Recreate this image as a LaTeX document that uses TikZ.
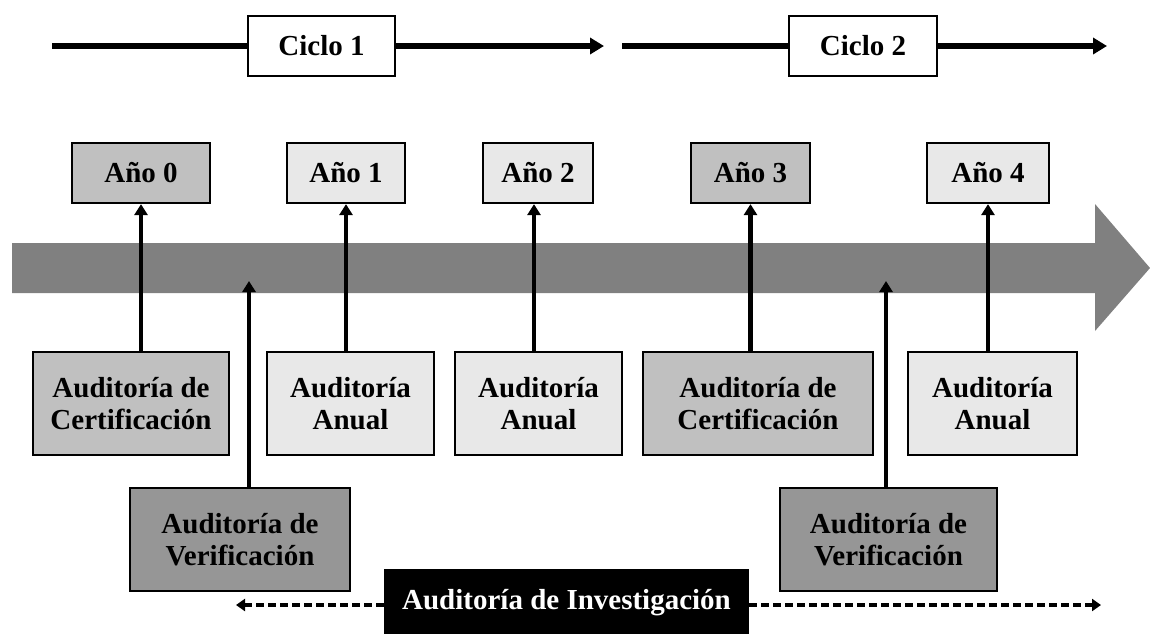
\documentclass[tikz,border=0pt]{standalone}
\usepackage{fontspec}
\setmainfont{Liberation Serif}
\usetikzlibrary{arrows.meta}
\definecolor{gA}{HTML}{C0C0C0}
\definecolor{gL}{HTML}{E8E8E8}
\definecolor{gV}{HTML}{969696}
\definecolor{gB}{HTML}{808080}
\begin{document}
\begin{tikzpicture}[x=1pt,y=-1pt,
  box/.style={draw=black, line width=2.2pt, inner sep=0pt, align=center,
    font=\fontsize{29}{32}\selectfont\bfseries},
  topline/.style={line width=5.5pt},
  toparrow/.style={line width=5.5pt, -{Triangle[length=14pt,width=16pt]}},
  uparrow/.style={line width=4.2pt, -{Triangle[length=11pt,width=13pt]}},
  dashline/.style={line width=3.4pt, dash pattern=on 8pt off 4pt, -{Triangle[length=9pt,width=12pt]}}]
\useasboundingbox (0,0) rectangle (1150,633);
% band arrow
\fill[gB] (12,243) -- (1095,243) -- (1095,204) -- (1150,268) -- (1095,331) -- (1095,293) -- (12,293) -- cycle;
% cycle lines
\node[box, fill=white, minimum width=147pt, minimum height=60pt] (cy1) at (321.5,46) {Ciclo 1};
\node[box, fill=white, minimum width=148pt, minimum height=60pt] (cy2) at (863,46) {Ciclo 2};
\coordinate (c1s) at (52,46);
\coordinate (c1e) at (604,46);
\coordinate (c2s) at (622,46);
\coordinate (c2e) at (1107,46);
\draw[topline] (c1s) -- (cy1.west);
\draw[toparrow] (cy1.east) -- (c1e);
\draw[topline] (c2s) -- (cy2.west);
\draw[toparrow] (cy2.east) -- (c2e);
% year boxes
\node[box, fill=gA, minimum width=138pt, minimum height=60pt] (y0) at (141,173) {Año 0};
\node[box, fill=gL, minimum width=118pt, minimum height=60pt] (y1) at (346,173) {Año 1};
\node[box, fill=gL, minimum width=110pt, minimum height=60pt] (y2) at (538,173) {Año 2};
\node[box, fill=gA, minimum width=119pt, minimum height=60pt] (y3) at (750.5,173) {Año 3};
\node[box, fill=gL, minimum width=122pt, minimum height=60pt] (y4) at (988,173) {Año 4};
% audit boxes
\node[box, fill=gA, minimum width=196pt, minimum height=103pt] (ac1) at (131,403.5) {Auditoría de\\Certificación};
\node[box, fill=gL, minimum width=167pt, minimum height=103pt] (an1) at (350.5,403.5) {Auditoría\\Anual};
\node[box, fill=gL, minimum width=167pt, minimum height=103pt] (an2) at (538.5,403.5) {Auditoría\\Anual};
\node[box, fill=gA, minimum width=230pt, minimum height=103pt] (ac2) at (758,403.5) {Auditoría de\\Certificación};
\node[box, fill=gL, minimum width=169pt, minimum height=103pt] (an3) at (992.5,403.5) {Auditoría\\Anual};
\node[box, fill=gV, minimum width=220pt, minimum height=103pt] (av1) at (240,539.5) {Auditoría de\\Verificación};
\node[box, fill=gV, minimum width=217pt, minimum height=103pt] (av2) at (888.5,539.5) {Auditoría de\\Verificación};
% vertical arrows
\draw[uparrow] (y0.south |- ac1.north) -- (y0.south);
\draw[uparrow] (y1.south |- an1.north) -- (y1.south);
\draw[uparrow] (534,0 |- an2.north) -- (534,0 |- y2.south);
\draw[uparrow] (y3.south |- ac2.north) -- (y3.south);
\draw[uparrow] (y4.south |- an3.north) -- (y4.south);
\coordinate (tv1) at (249,281);
\coordinate (tv2) at (886,281);
\draw[uparrow] (tv1 |- av1.north) -- (tv1);
\draw[uparrow] (tv2 |- av2.north) -- (tv2);
% investigation
\node[box, fill=black, text=white, minimum width=363pt, minimum height=70pt] (inv) at (566.5,605) {};
\node[font=\fontsize{29}{32}\selectfont\bfseries, text=white] (invt) at (566.5,603) {Auditoría de Investigación};
\coordinate (dl) at (236,605);
\coordinate (dr) at (1101,605);
\draw[dashline] (inv.west) -- (dl);
\draw[dashline] (inv.east) -- (dr);
\end{tikzpicture}
\end{document}
